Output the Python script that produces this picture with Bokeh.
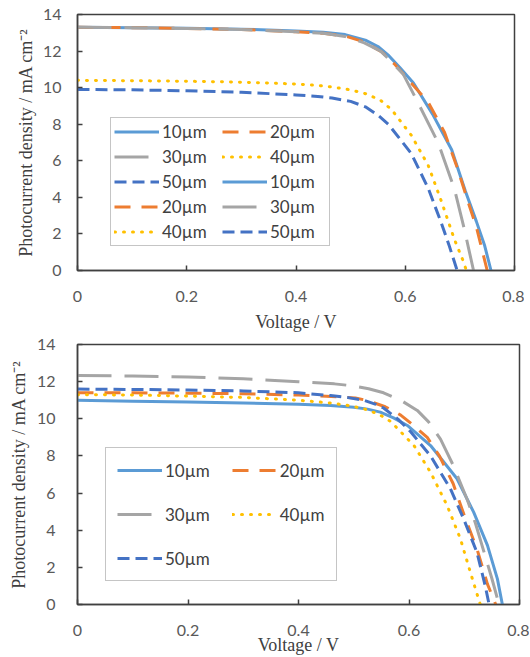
from bokeh.plotting import figure
from bokeh.models import Range1d, FixedTicker, Legend, LegendItem
from bokeh.layouts import column
from bokeh.embed import file_html
from bokeh.resources import INLINE

# ---------------- data ----------------
series_labels = ["10µm", "20µm", "30µm", "40µm", "50µm"]
x_ticks = [0, 0.2, 0.4, 0.6, 0.8]
x_tick_labels = ["0", "0.2", "0.4", "0.6", "0.8"]
y_ticks = [0, 2, 4, 6, 8, 10, 12, 14]
y_tick_labels = ["0", "2", "4", "6", "8", "10", "12", "14"]

# top chart
top_v10 = [0, 0.1, 0.2, 0.3, 0.4, 0.45, 0.49, 0.527, 0.55, 0.57, 0.59, 0.615, 0.65, 0.685, 0.71, 0.73, 0.745, 0.757]
top_j10 = [13.3, 13.28, 13.25, 13.2, 13.1, 13.03, 12.9, 12.6, 12.25, 11.75, 11.1, 10.25, 8.55, 6.6, 4.35, 2.7, 1.4, 0.0]
top_v20 = [0, 0.1, 0.2, 0.3, 0.4, 0.45, 0.49, 0.525, 0.557, 0.58, 0.605, 0.642, 0.672, 0.696, 0.715, 0.73, 0.75]
top_j20 = [13.3, 13.28, 13.24, 13.18, 13.05, 12.97, 12.82, 12.5, 11.95, 11.3, 10.45, 9.2, 7.55, 5.55, 3.75, 2.4, 0.0]
top_v30 = [0, 0.1, 0.2, 0.3, 0.4, 0.45, 0.49, 0.525, 0.555, 0.575, 0.596, 0.623, 0.66, 0.69, 0.708, 0.725]
top_j30 = [13.3, 13.28, 13.24, 13.18, 13.05, 12.97, 12.8, 12.45, 12.0, 11.4, 10.75, 9.2, 7.0, 4.47, 2.28, 0.0]
top_v40 = [0, 0.1, 0.2, 0.3, 0.4, 0.44, 0.47, 0.5, 0.53, 0.555, 0.575, 0.611, 0.642, 0.666, 0.69, 0.705, 0.712]
top_j40 = [10.4, 10.38, 10.35, 10.3, 10.2, 10.12, 10.02, 9.88, 9.65, 9.3, 8.8, 7.4, 5.75, 3.8, 1.7, 0.6, 0.0]
top_v50 = [0, 0.1, 0.2, 0.3, 0.4, 0.44, 0.466, 0.5, 0.527, 0.55, 0.569, 0.611, 0.642, 0.666, 0.68, 0.695]
top_j50 = [9.9, 9.88, 9.83, 9.75, 9.6, 9.52, 9.43, 9.25, 8.95, 8.5, 8.0, 6.4, 4.5, 2.6, 1.4, 0.0]

# bottom chart
bot_v10 = [0, 0.1, 0.2, 0.3, 0.4, 0.458, 0.5, 0.525, 0.548, 0.572, 0.597, 0.639, 0.687, 0.717, 0.742, 0.76, 0.769]
bot_j10 = [11.0, 10.95, 10.9, 10.85, 10.78, 10.72, 10.62, 10.52, 10.36, 10.05, 9.64, 8.56, 6.77, 4.97, 3.18, 1.38, 0.0]
bot_v20 = [0, 0.1, 0.2, 0.3, 0.4, 0.45, 0.503, 0.525, 0.557, 0.585, 0.606, 0.633, 0.655, 0.68, 0.7, 0.724, 0.742, 0.757]
bot_j20 = [11.4, 11.4, 11.38, 11.35, 11.28, 11.22, 11.12, 10.98, 10.65, 10.2, 9.7, 9.0, 8.0, 6.5, 4.8, 2.9, 1.1, 0.0]
bot_v30 = [0, 0.1, 0.2, 0.3, 0.4, 0.465, 0.5, 0.527, 0.554, 0.585, 0.615, 0.635, 0.657, 0.68, 0.706, 0.72, 0.735, 0.75, 0.763]
bot_j30 = [12.33, 12.3, 12.25, 12.15, 12.0, 11.88, 11.77, 11.62, 11.4, 11.0, 10.45, 9.85, 8.9, 7.5, 5.6, 4.4, 2.9, 1.4, 0.0]
bot_v40 = [0, 0.1, 0.2, 0.3, 0.4, 0.458, 0.49, 0.518, 0.545, 0.567, 0.609, 0.639, 0.669, 0.693, 0.711, 0.729]
bot_j40 = [11.3, 11.28, 11.22, 11.15, 11.0, 10.85, 10.72, 10.54, 10.25, 9.85, 8.56, 7.12, 5.33, 3.54, 1.74, 0.0]
bot_v50 = [0, 0.1, 0.2, 0.3, 0.4, 0.458, 0.49, 0.518, 0.54, 0.554, 0.58, 0.603, 0.639, 0.675, 0.699, 0.723, 0.738, 0.745]
bot_j50 = [11.6, 11.58, 11.55, 11.5, 11.4, 11.25, 11.14, 11.0, 10.78, 10.58, 9.98, 9.3, 8.0, 6.23, 4.6, 2.8, 1.0, 0.0]

# legend order (legend fills column by column)
top_legend_order = [0, 2, 4, 1, 3, 1, 3, 0, 2, 4]
bot_legend_order = [0, 2, 4, 1, 3]

# ---------------- styles ----------------
STYLES = [
    dict(line_color="#5B9BD5", line_width=3, line_dash="solid", line_cap="butt"),
    dict(line_color="#ED7D31", line_width=3, line_dash="16 11", line_cap="butt"),
    dict(line_color="#A5A5A5", line_width=3, line_dash="34 13", line_cap="butt"),
    dict(line_color="#FFC000", line_width=3, line_dash="1 8", line_cap="round"),
    dict(line_color="#4472C4", line_width=3, line_dash="12 6", line_cap="butt"),
]
TICK_FONT = "Lato"
LABEL_FONT = "Liberation Serif"
DARK = "#404040"


def make_fig(width, height, bl, br, bt, bb, x_lab_off, y_lab_off, x_ax_standoff, y_ax_standoff):
    p = figure(width=width, height=height, output_backend="svg", toolbar_location=None,
               x_range=Range1d(0, 0.8), y_range=Range1d(0, 14),
               min_border_left=bl, min_border_right=br, min_border_top=bt, min_border_bottom=bb)
    p.xgrid.visible = False
    p.ygrid.visible = False
    p.outline_line_color = DARK
    p.outline_line_width = 1.5
    p.outline_line_alpha = 1
    p.xaxis.ticker = FixedTicker(ticks=x_ticks)
    p.yaxis.ticker = FixedTicker(ticks=y_ticks)
    p.xaxis.major_label_overrides = dict(zip(x_ticks, x_tick_labels))
    p.yaxis.major_label_overrides = dict(zip(y_ticks, y_tick_labels))
    for ax in (p.xaxis, p.yaxis):
        ax.major_tick_in = 5
        ax.major_tick_out = 0
        ax.minor_tick_line_color = None
        ax.axis_line_color = DARK
        ax.axis_line_width = 1.5
        ax.major_tick_line_color = DARK
        ax.major_tick_line_width = 1.5
        ax.major_label_text_font = TICK_FONT
        ax.major_label_text_font_size = "16px"
        ax.major_label_text_color = "#595959"
        ax.axis_label_text_font = LABEL_FONT
        ax.axis_label_text_font_size = "18px"
        ax.axis_label_text_font_style = "normal"
        ax.axis_label_text_color = DARK
    p.xaxis.major_label_standoff = x_lab_off
    p.yaxis.major_label_standoff = y_lab_off
    p.xaxis.axis_label_standoff = x_ax_standoff
    p.yaxis.axis_label_standoff = y_ax_standoff
    p.xaxis.axis_label = "Voltage / V"
    p.yaxis.axis_label = "Photocurrent density / mA cm⁻²"
    return p


def style_legend(lg):
    lg.glyph_width = 45
    lg.label_standoff = 3
    lg.margin = 0
    lg.border_line_color = "#8C8C8C"
    lg.border_line_width = 1
    lg.label_text_font = TICK_FONT
    lg.label_text_font_size = "17px"
    lg.label_text_color = DARK
    lg.background_fill_color = "white"
    lg.background_fill_alpha = 1


# ---------------- top figure ----------------
p1 = make_fig(524, 334, 73, 10, 14, 64, 20, 16, 7, 4)
top_data = [(top_v10, top_j10), (top_v20, top_j20), (top_v30, top_j30),
            (top_v40, top_j40), (top_v50, top_j50)]
top_r = [p1.line(v, j, **st) for (v, j), st in zip(top_data, STYLES)]
items1 = [LegendItem(label=series_labels[i], renderers=[top_r[i]]) for i in top_legend_order]
lg1 = Legend(items=items1, location=(33, 24), ncols=2)
style_legend(lg1)
lg1.padding = 3
lg1.glyph_height = 19
lg1.label_height = 19
lg1.label_width = 56
lg1.spacing = 4
p1.add_layout(lg1)

# ---------------- bottom figure ----------------
p2 = make_fig(529, 323, 77, 10, 10, 53, 20, 22, -4, 5)
bot_data = [(bot_v10, bot_j10), (bot_v20, bot_j20), (bot_v30, bot_j30),
            (bot_v40, bot_j40), (bot_v50, bot_j50)]
bot_r = [p2.line(v, j, **st) for (v, j), st in zip(bot_data, STYLES)]
items2 = [LegendItem(label=series_labels[i], renderers=[bot_r[i]]) for i in bot_legend_order]
lg2 = Legend(items=items2, location=(28, 23), ncols=2)
style_legend(lg2)
lg2.padding = 11
lg2.glyph_height = 22
lg2.label_height = 22
lg2.label_width = 43
lg2.spacing = 22
p2.add_layout(lg2)

layout = column(p1, p2, spacing=0)
open("out.html", "w").write(file_html(layout, INLINE))
